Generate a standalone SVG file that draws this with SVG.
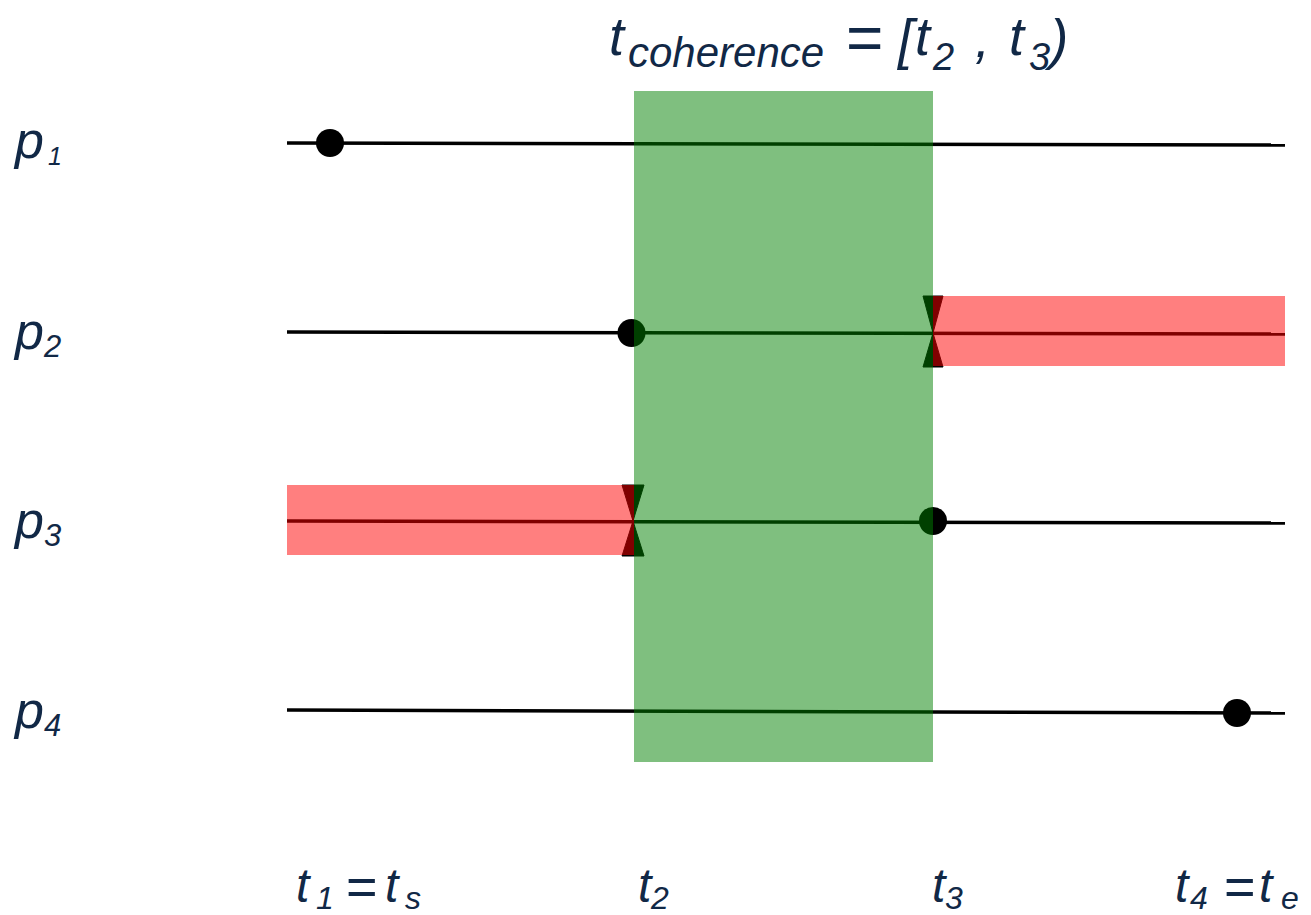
<svg xmlns="http://www.w3.org/2000/svg" width="1311" height="915" viewBox="0 0 1311 915">
<style>
.lbl{font-family:"Liberation Sans",Arial,sans-serif;fill:#112846;font-style:italic}
.ln{stroke:#000;stroke-width:3.5;fill:none}
.dot{fill:#000}
.bow{fill:#000;stroke:#000;stroke-width:1}
.red{fill:#ff0000;fill-opacity:0.5}
.green{fill:#008000;fill-opacity:0.5}
</style>
<rect width="1311" height="915" fill="#fff"/>
<g id="title" class="lbl">
<text x="609" y="55" font-size="54">t</text>
<text x="628" y="67" font-size="42">coherence</text>
<text x="846" y="60" font-size="64" font-style="normal">=</text>
<text x="898" y="58" font-size="55">[</text>
<text x="915" y="55" font-size="54">t</text>
<text x="933" y="70" font-size="38">2</text>
<text x="975" y="57" font-size="54">,</text>
<text x="1009" y="55" font-size="54">t</text>
<text x="1029" y="70" font-size="38">3</text>
<text x="1050" y="58" font-size="55">)</text>
</g>
<g id="labels-p" class="lbl">
<text x="15" y="158" font-size="52">p<tspan font-size="25" dx="4" dy="7">1</tspan></text>
<text x="15" y="349" font-size="52">p<tspan font-size="31" dy="8">2</tspan></text>
<text x="15" y="538" font-size="52">p<tspan font-size="31" dy="8">3</tspan></text>
<text x="15" y="728" font-size="52">p<tspan font-size="31" dy="8">4</tspan></text>
</g>
<g id="labels-t" class="lbl">
<text x="296" y="902" font-size="48">t</text>
<text x="316" y="909" font-size="32">1</text>
<text x="346" y="905" font-size="54" font-style="normal">=</text>
<text x="385" y="902" font-size="48">t</text>
<text x="405" y="909" font-size="32">s</text>
<text x="638" y="902" font-size="48">t</text>
<text x="651" y="909" font-size="32">2</text>
<text x="932" y="902" font-size="48">t</text>
<text x="945" y="909" font-size="32">3</text>
<text x="1175" y="902" font-size="48">t</text>
<text x="1190" y="909" font-size="32">4</text>
<text x="1224" y="905" font-size="54" font-style="normal">=</text>
<text x="1259" y="902" font-size="48">t</text>
<text x="1281" y="909" font-size="32">e</text>
</g>
<g id="connectors">
<line class="ln" x1="287" y1="143" x2="1285" y2="145"/>
<line class="ln" x1="287" y1="332" x2="1285" y2="334"/>
<line class="ln" x1="287" y1="521" x2="1285" y2="523"/>
<line class="ln" x1="287" y1="710" x2="1285" y2="713"/>
</g>
<g id="p1"><circle class="dot" cx="330" cy="143" r="14"/></g>
<g id="p2">
<circle class="dot" cx="631.5" cy="333" r="14"/>
<polygon class="bow" points="923,296 943,296 933,333 943,367 923,367 933,333"/>
<line x1="933" y1="296" x2="933" y2="367" stroke="#000" stroke-width="2"/>
<rect class="red" x="933" y="296" width="352" height="70"/>
</g>
<g id="p3">
<circle class="dot" cx="933" cy="521" r="14"/>
<polygon class="bow" points="622,485 644,485 633,521 644,556 622,556 633,521"/>
<line x1="633" y1="485" x2="633" y2="556" stroke="#000" stroke-width="2"/>
<rect class="red" x="287" y="485" width="347" height="70"/>
</g>
<g id="p4"><circle class="dot" cx="1237" cy="713" r="14"/></g>
<g id="coherence"><rect class="green" x="634" y="91" width="299" height="671"/></g>
</svg>
